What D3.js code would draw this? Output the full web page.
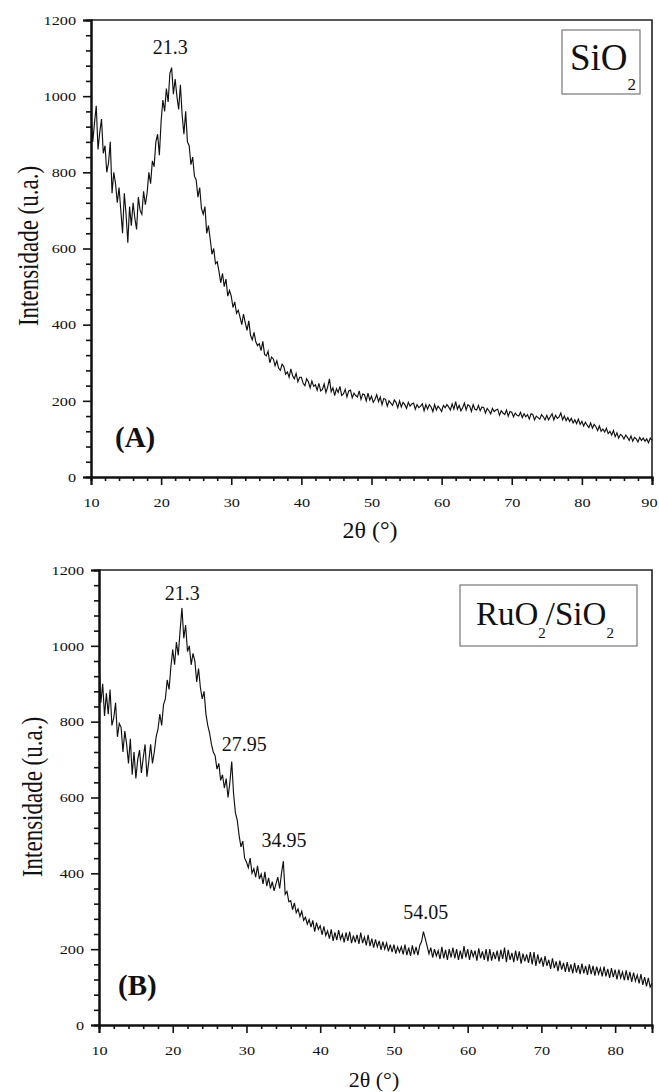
<!DOCTYPE html>
<html><head><meta charset="utf-8">
<script src="https://cdn.jsdelivr.net/npm/d3@7"></script>
<style>
body{margin:0;background:#fff}
text{font-family:"Liberation Serif","Times New Roman",serif;fill:#111}
</style>
</head><body>
<svg id="c" width="659" height="1092"></svg>
<script>
// ---- data ----
const angleStart = 10, angleStep = 0.25;
const sio2Intensity = [
955,880,930,975, 860,905,940,850, 870,800,825,880, 745,800,770,720, 760,700,640,745,
690,615,710,660, 720,680,650,735, 700,690,750,715, 745,800,770,830, 815,880,900,845,
935,990,960,1020, 985,1060,1075,1005, 1045,1000,965,1030, 950,900,960,880, 870,820,840,790,
780,735,760,705, 690,710,640,660, 625,585,600,560, 565,540,510,535, 500,520,475,490,
475,445,460,430, 438,420,400,428, 405,385,410,372, 360,380,355,345, 350,332,356,322,
318,330,300,315, 310,292,305,286, 280,296,290,270, 276,262,284,266, 258,272,250,262,
262,246,240,258, 250,234,252,238, 242,228,246,226, 230,244,222,236, 258,224,234,214,
232,222,238,214, 218,230,210,226, 228,208,220,214, 210,226,204,218, 216,200,220,202,
212,196,204,216, 198,210,190,206, 204,186,200,194, 188,202,196,182, 200,184,196,190,
180,196,186,192, 194,178,190,182, 186,192,174,190, 178,190,184,172, 190,176,186,180,
172,188,182,190, 184,176,192,178, 198,178,188,174, 182,194,176,190, 186,172,190,178,
176,188,174,184, 182,168,180,174, 166,180,172,176, 178,162,174,168, 164,176,160,172,
170,158,168,162, 160,170,156,166, 158,164,152,166, 164,150,160,156, 152,164,158,150,
162,150,158,166, 150,162,154,158, 168,150,160,148, 156,146,154,142, 150,140,152,138,
146,134,144,136, 130,142,128,138, 132,122,134,120, 126,118,128,114, 120,110,122,106,
116,102,112,108, 100,110,104,96, 108,94,104,100, 92,104,96,102, 94,100,90,102,
96];
const ruo2Intensity = [
960,850,900,815, 875,820,885,790, 810,850,760,795, 785,720,775,740, 690,755,660,720,
650,700,725,665, 705,740,655,695, 740,690,720,760, 780,820,790,845, 860,910,885,945,
990,950,1010,975, 1040,1100,1020,1055, 985,1000,950,980, 960,905,940,890, 860,880,820,790,
770,740,720,710, 675,690,645,660, 625,650,600,640, 695,610,560,540, 500,470,485,440,
430,415,440,400, 412,390,420,385, 398,372,404,366, 388,360,378,354, 372,390,360,400,
432,345,352,325, 328,304,322,296, 306,286,300,276, 284,266,278,258, 276,246,270,252,
262,238,260,236, 248,228,252,222, 244,224,250,226, 240,218,244,222, 246,216,236,218,
238,214,244,216, 232,210,238,208, 228,204,226,206, 222,198,220,200, 216,194,212,192,
212,188,206,192, 206,186,212,184, 204,182,210,186, 206,184,210,220, 246,228,208,188,
204,178,200,182, 196,174,206,176, 198,172,200,178, 204,176,200,172, 196,174,208,178,
200,172,198,180, 196,170,202,176, 194,172,200,168, 200,170,192,174, 196,168,198,174,
204,166,198,172, 190,166,196,170, 194,162,188,168, 186,164,192,160, 192,156,186,162,
178,154,182,156, 172,148,176,150, 168,142,170,146, 164,140,166,140, 160,136,164,138,
158,134,162,136, 156,132,160,134, 156,130,154,134, 150,128,154,128, 148,124,150,126,
146,120,146,124, 140,118,144,118, 140,114,138,116, 132,110,134,106, 126,102,124,100,
110];
const yTickValues = [0,200,400,600,800,1000,1200];
const xTickValuesA = [10,20,30,40,50,60,70,80,90];
const xTickValuesB = [10,20,30,40,50,60,70,80];
const peaksA = ["21.3"];
const peaksB = ["21.3","27.95","34.95","54.05"];
const yTitle = "Intensidade (u.a.)";
const xTitle = "2θ (°)";

// ---- layout ----
const panels = [
  {data:sio2Intensity, xDomain:[10,90], xTicks:xTickValuesA, peaks:peaksA,
   left:91, right:652, top:20, bottom:477, tag:"(A)", tagPos:[115,447],
   yTitlePos:[28,246], xTitlePos:[370,538], xTitleSize:24,
   peakLayout:[{dx:0,gap:14}],
   legend:{x:562,y:30,w:78,h:64, parts:[["SiO",null],["2","sub"]], size:37, sub:17, tx:570, base:70, subDy:20}},
  {data:ruo2Intensity, xDomain:[10,85], xTicks:xTickValuesB, peaks:peaksB,
   left:99, right:652, top:570, bottom:1025, tag:"(B)", tagPos:[118,995],
   yTitlePos:[32,797], xTitlePos:[374,1087], xTitleSize:22,
   peakLayout:[{dx:0,gap:8},{dx:13,gap:10},{dx:1,gap:14},{dx:2,gap:13}],
   legend:{x:460,y:585,w:177,h:61, parts:[["RuO",null],["2","sub"],["/SiO",null],["2","sub"]], size:33, sub:15, tx:476, base:625, subDy:13}}
];

const svg = d3.select("#c");

panels.forEach(p => {
  const x = d3.scaleLinear().domain(p.xDomain).range([p.left, p.right]);
  const y = d3.scaleLinear().domain([0,1200]).range([p.bottom, p.top]);
  const g = svg.append("g");
  const pts = p.data.map((v,i)=>[angleStart + i*angleStep, v]);

  // frame (top/right)
  g.append("path").attr("d", `M${p.left},${p.top}H${p.right}V${p.bottom}`)
    .attr("fill","none").attr("stroke","#222").attr("stroke-width",1.6);

  // curve
  g.append("path").datum(pts)
    .attr("d", d3.line().x(d=>x(d[0])).y(d=>y(d[1])))
    .attr("fill","none").attr("stroke","#111").attr("stroke-width",1.15);

  // y axis
  const minorY = d3.range(0,1201,40).filter(v=>v%200!==0);
  const ay = g.append("g").attr("transform",`translate(${p.left},0)`);
  ay.call(d3.axisLeft(y).tickValues(minorY).tickSize(5).tickFormat(""));
  const ayM = g.append("g").attr("transform",`translate(${p.left},0)`);
  ayM.call(d3.axisLeft(y).tickValues(yTickValues).tickSize(8).tickPadding(7).tickFormat(d3.format("d")));
  [ay, ayM].forEach(a=>{a.selectAll(".domain").attr("stroke","#111").attr("stroke-width",2);
    a.selectAll("line").attr("stroke","#111").attr("stroke-width",1.6);});
  ayM.selectAll("text").attr("font-size",13).attr("fill","#222")
    .attr("x",-15/1.25).attr("transform","scale(1.25,1)");

  // x axis
  const minorX = d3.range(p.xDomain[0], p.xDomain[1]+0.01, 2).filter(v=>v%10!==0);
  const ax = g.append("g").attr("transform",`translate(0,${p.bottom})`);
  ax.call(d3.axisBottom(x).tickValues(minorX).tickSize(4).tickFormat(""));
  const axM = g.append("g").attr("transform",`translate(0,${p.bottom})`);
  axM.call(d3.axisBottom(x).tickValues(p.xTicks).tickSize(8).tickPadding(12).tickFormat(d3.format("d")));
  [ax, axM].forEach(a=>{a.selectAll(".domain").attr("stroke","#111").attr("stroke-width",2);
    a.selectAll("line").attr("stroke","#111").attr("stroke-width",1.6);});
  axM.selectAll("text").attr("font-size",13).attr("fill","#222")
    .attr("transform","scale(1.25,1)").attr("dy","0.8em")
    .attr("dx", d => x(d) > p.right - 4 ? -2.5 : 0);

  // titles
  g.append("text").text(yTitle).attr("font-size",23).attr("text-anchor","middle")
    .attr("dominant-baseline","central")
    .attr("transform",`translate(${p.yTitlePos[0]},${p.yTitlePos[1]}) scale(1.3,1) rotate(-90)`);
  g.append("text").text(xTitle).attr("font-size",p.xTitleSize).attr("text-anchor","middle")
    .attr("x",p.xTitlePos[0]).attr("y",p.xTitlePos[1]);

  // panel tag
  g.append("text").text(p.tag).attr("font-size",29).attr("font-weight","bold")
    .attr("x",p.tagPos[0]).attr("y",p.tagPos[1]);

  // peak labels
  p.peaks.forEach((lab,i)=>{
    const ang = +lab;
    const near = pts.filter(d=>Math.abs(d[0]-ang)<=0.5);
    const top = d3.max(near, d=>d[1]);
    const L = p.peakLayout[i];
    g.append("text").text(lab).attr("font-size",20).attr("text-anchor","middle")
      .attr("x", x(ang)+L.dx).attr("y", y(top)-L.gap);
  });

  // legend box
  const lg = p.legend;
  g.append("rect").attr("x",lg.x).attr("y",lg.y).attr("width",lg.w).attr("height",lg.h)
    .attr("fill","#fff").attr("stroke","#777").attr("stroke-width",1.2);
  const t = g.append("text").attr("x",lg.tx).attr("y",lg.base).attr("font-size",lg.size);
  lg.parts.forEach(([s,kind])=>{
    const ts = t.append("tspan").text(s);
    if(kind==="sub") ts.attr("font-size",lg.sub).attr("dy",lg.subDy);
    else ts.attr("dy", t.selectAll("tspan").size()>1 ? -lg.subDy : 0);
  });
});
</script>
</body></html>
